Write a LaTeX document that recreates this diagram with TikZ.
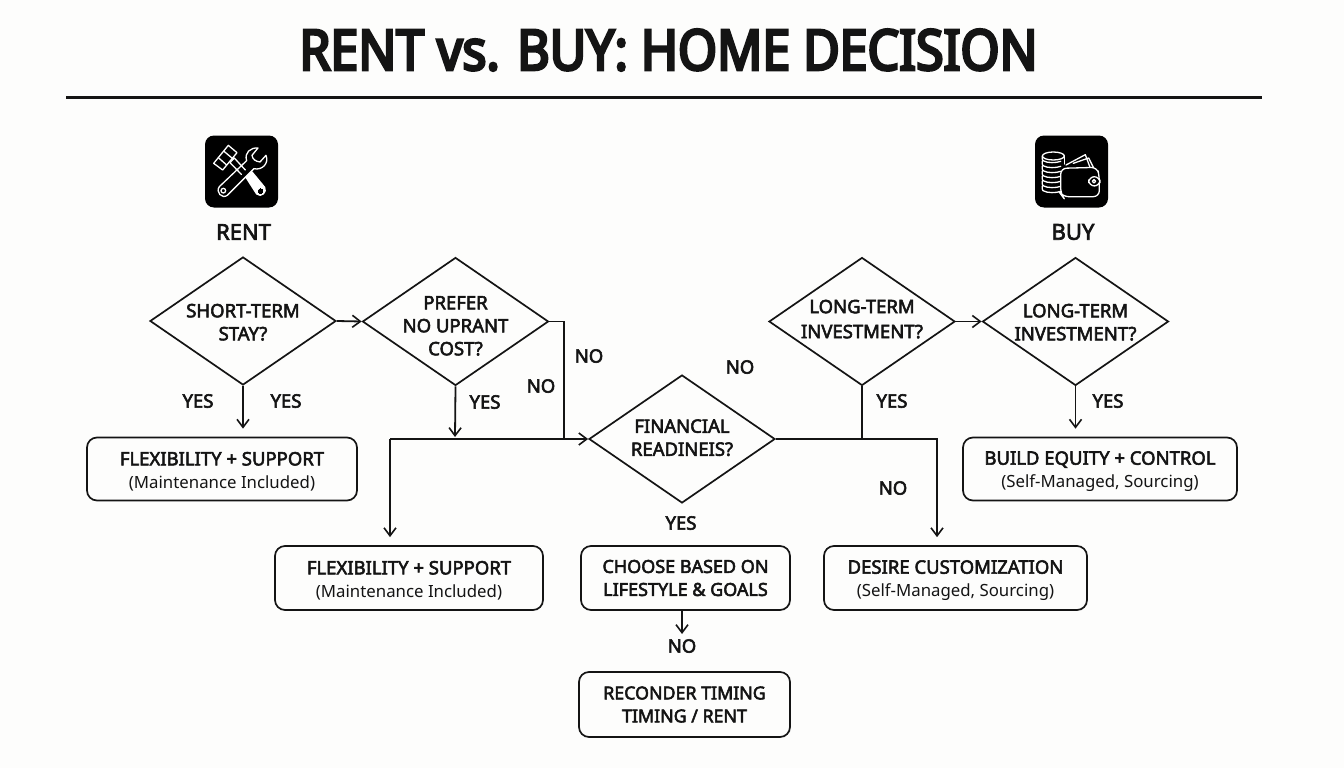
\documentclass[tikz,border=0pt]{standalone}
\usepackage{fontspec}
\setmainfont{Noto Sans}
\newfontfamily\semib[FakeBold=3]{Noto Sans}
\newfontfamily\heavy[FakeBold=5,FakeStretch=0.893]{Noto Sans}
\usetikzlibrary{shapes.geometric,arrows.meta}
\definecolor{ink}{HTML}{141414}
\definecolor{paper}{HTML}{FDFDFC}
\newcommand{\dia}[3]{\smash{\makebox[0pt]{\raisebox{#1}{\semib\fontsize{18.5}{#2}\selectfont\begin{tabular}{@{}c@{}}#3\end{tabular}}}}}
\newcommand{\btxt}[2]{\rule{0pt}{18.4pt}{\semib #1}\\{\fontsize{16.8}{23}\selectfont #2}}
\tikzset{
  diam/.style={draw=ink,line width=1.7pt,shape=diamond,inner sep=0pt,minimum width=186pt,minimum height=128pt,aspect=1.45,text=ink},
  rbox/.style={draw=ink,line width=1.7pt,rounded corners=10pt,inner sep=0pt,align=center,text=ink,font=\fontsize{18.5}{23}\selectfont},
  lab/.style={text=ink,inner sep=0pt,font=\semib\fontsize{18.5}{22}\selectfont},
  head/.style={text=ink,inner sep=0pt,font=\semib\fontsize{22}{26}\selectfont},
  conn/.style={draw=ink,line width=1.8pt},
  arr/.style={conn,-{Straight Barb[length=8pt,width=12pt,line width=1.6pt]}},
  toBox/.style={arr,shorten >=8pt},
  glyph/.style={draw=white,line width=1.3pt,line join=round,line cap=round},
}
\begin{document}
\begin{tikzpicture}[x=1pt,y=-1pt]
\useasboundingbox[fill=paper] (0,0) rectangle (1344,768);
\node[text=ink,inner sep=0pt,font=\heavy\fontsize{56}{60}\selectfont] (title) at (668.5,50) {RENT vs. BUY: HOME DECISION};
\coordinate (ruleL) at (66,97); \coordinate (ruleR) at (1262,97);
\draw[ink,line width=3pt] (ruleL) -- (ruleR);

% icons
\node[fill=black,rounded corners=9pt,minimum width=73pt,minimum height=72pt,inner sep=0pt] (iconR) at (241.5,171.5) {};
\node[fill=black,rounded corners=9pt,minimum width=73pt,minimum height=72pt,inner sep=0pt] (iconB) at (1071.5,171.5) {};
\begin{scope}[shift={(180,120)},x=0.3333pt,y=-0.3333pt]
  % hammer
  \draw[glyph] (101,130) -- (145,76) -- (171,98) -- (128,150) -- cycle;
  \draw[glyph] (115,113) -- (140,135);
  \draw[glyph] (132,94) -- (157,115);
  \draw[glyph] (150,128) -- (163,114) -- (196,150);
  \draw[glyph] (150,128) -- (184,163);
  \draw[glyph,fill=white] (198,172) -- (216,156) -- (254,202) .. controls (262,216) and (244,234) .. (230,222) -- cycle;
  \draw[draw=black,fill=black,line width=0pt] (242,213) circle (7);
  % wrench
  \draw[glyph] (118,200) -- (200,122) .. controls (192,98) and (212,82) .. (234,84) -- (216,106) .. controls (218,118) and (226,124) .. (240,126) -- (258,106) .. controls (268,130) and (246,152) .. (222,146) -- (142,226) .. controls (126,238) and (106,216) .. (118,200) -- cycle;
  \draw[glyph] (130,212) circle (7);
\end{scope}
\begin{scope}[shift={(1010,120)},x=0.3333pt,y=-0.3333pt]
  % coins
  \draw[glyph] (130,108) ellipse (33 and 12);
  \foreach \yy in {122,137,152,167,182,197,212}{
    \draw[glyph] (97,\yy-14) .. controls (96,\yy-6) and (97,\yy-2) .. (99,\yy);
    \draw[glyph] (99,\yy) .. controls (112,\yy+8) and (140,\yy+7) .. (152,\yy+2);
  }
  \draw[glyph] (163,108) -- (163,132);
  % notes
  \draw[glyph] (168,135) -- (226,104) -- (240,142);
  \draw[glyph] (190,130) -- (236,114) -- (250,142);
  % wallet
  \draw[glyph,fill=black,rounded corners=6pt] (152,145) -- (262,142) -- (268,170) -- (268,230) -- (158,230) -- (152,222) -- cycle;
  \draw[glyph,fill=black,rounded corners=6pt] (236,170) rectangle (270,198);
  \draw[glyph] (252,184) circle (5);
\end{scope}
\node[head] (rent) at (243.5,232) {RENT};
\node[head] (buy) at (1073,232) {BUY};

% decisions
\node[diam] (d1) at (243,321) {\dia{-7.5pt}{23}{SHORT-TERM\\STAY?}};
\node[diam] (d2) at (455.5,321.5) {\dia{-10.5pt}{23}{PREFER\\NO UPRANT\\COST?}};
\node[diam] (d3) at (682,439) {\dia{-5pt}{23}{FINANCIAL\\READINEIS?}};
\node[diam] (d4) at (862,321.5) {\dia{-3.5pt}{25}{LONG-TERM\\INVESTMENT?}};
\node[diam] (d5) at (1075.5,321.5) {\dia{-7pt}{23}{LONG-TERM\\INVESTMENT?}};

% outcomes
\node[rbox,minimum width=270pt,minimum height=63pt] (b1) at (222,469) {\btxt{FLEXIBILITY + SUPPORT}{(Maintenance Included)}};
\node[rbox,minimum width=268pt,minimum height=64pt] (b2) at (409,578) {\btxt{FLEXIBILITY + SUPPORT}{(Maintenance Included)}};
\node[rbox,minimum width=209pt,minimum height=64pt] (b3) at (685.5,578) {\semib\fontsize{18}{23}\selectfont CHOOSE BASED ON\\\semib\fontsize{18}{23}\selectfont LIFESTYLE \& GOALS};
\node[rbox,minimum width=263pt,minimum height=64pt] (b4) at (955.5,578) {\btxt{DESIRE CUSTOMIZATION}{(Self-Managed, Sourcing)}};
\node[rbox,minimum width=274pt,minimum height=63pt] (b5) at (1100,469) {\btxt{BUILD EQUITY + CONTROL}{(Self-Managed, Sourcing)}};
\node[rbox,minimum width=211pt,minimum height=65pt] (b6) at (684.5,704.5) {\semib\fontsize{17.8}{23}\selectfont RECONDER TIMING\\\semib\fontsize{17.8}{23}\selectfont TIMING / RENT};

% junctions
\coordinate (jL) at (390,439);
\coordinate (jD2) at (455,437);
\coordinate (jM) at (564,439);
\coordinate (jR) at (862,439);
\coordinate (jB4) at (937,439);

% connectors
\draw[arr] (d1.east) -- (d2.west);
\draw[arr] (d4.east) -- (d5.west);
\draw[toBox] (d1.south) -- (b1.north -| d1.south);
\draw[arr] (d2.south) -- (jD2);
\draw[toBox] (d5.south) -- (b5.north -| d5.south);
\draw[arr] (jL) -- (d3.west);
\draw[toBox] (jL) -- (b2.north -| jL);
\draw[conn] (d2.east) -| (jM);
\draw[toBox] (d3.east) -| (b4.north -| jB4);
\draw[conn] (d4.south) -- (jR);
\coordinate (b3s) at (682,610);
\coordinate (b3e) at (682,634);
\draw[arr] (b3s) -- (b3e);

% labels
\node[lab] (y1) at (198,401) {YES};
\node[lab] (y2) at (286,401) {YES};
\node[lab] (y3) at (485,402) {YES};
\node[lab] (n1) at (541,386) {NO};
\node[lab] (n2) at (589,356) {NO};
\node[lab] (n3) at (740,367) {NO};
\node[lab] (y4) at (892,401) {YES};
\node[lab] (n4) at (893,488) {NO};
\node[lab] (y5) at (1108,401) {YES};
\node[lab] (y6) at (681,523) {YES};
\node[lab] (n5) at (682,646) {NO};
\end{tikzpicture}
\end{document}
